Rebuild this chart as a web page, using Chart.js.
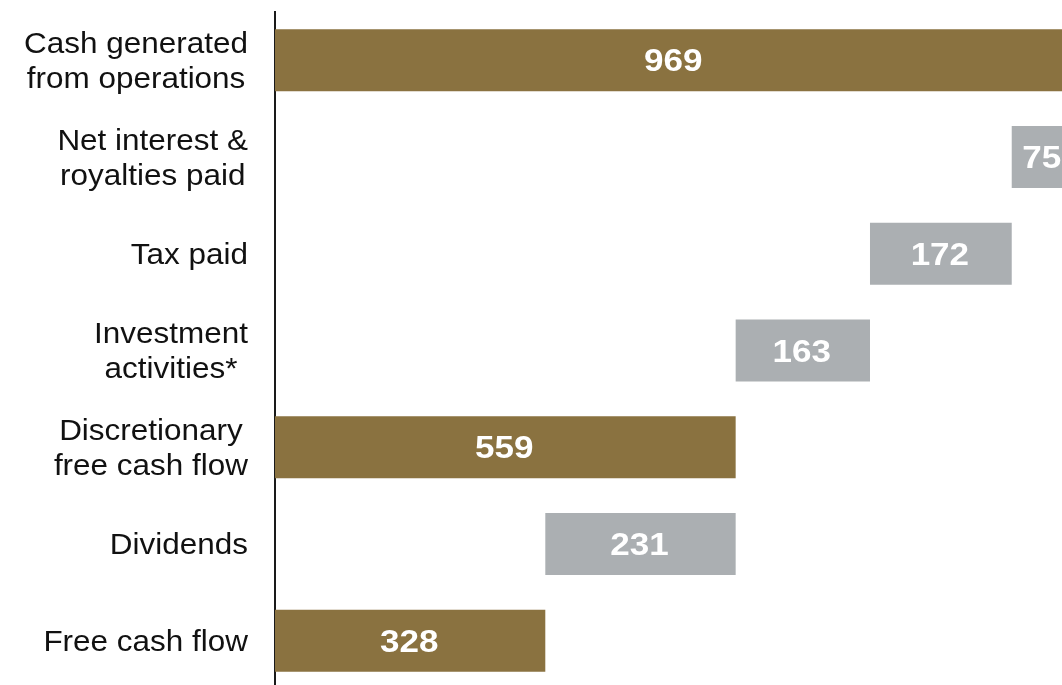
<!DOCTYPE html>
<html>
<head>
<meta charset="utf-8">
<script src="https://cdn.jsdelivr.net/npm/chart.js@4"></script>
<style>
    body{ margin:0; background:#fff; overflow:hidden; font-family:"Liberation Sans", Arial, sans-serif; }
    #wrap{ width:1062px; height:685px; overflow:hidden; }
</style>
</head>
<body>
<div id="wrap"><canvas id="flowChart" width="1062" height="689"></canvas></div>
<script>
/* =========================
   DATA
========================= */
const categories = [
    ["Cash generated", "from operations"],
    ["Net interest &", "royalties paid"],
    "Tax paid",
    ["Investment", "activities*"],
    ["Discretionary", "free cash flow"],
    "Dividends",
    "Free cash flow"
];

const amounts = [969, 75, 172, 163, 559, 231, 328];
const isTotal = [true, false, false, false, true, false, true];

/* =========================
   WATERFALL RANGES
========================= */
let ranges = [];
let running = 0;

amounts.forEach((v, i) => {
    if(isTotal[i]){
        running = v;
        ranges.push([0, v]);
    } else {
        ranges.push([running - v, running]);
        running = running - v;
    }
});

const GOLD = '#8a7240';
const GREY = '#abafb2';
const FONT = '"Liberation Sans", Arial, sans-serif';

/* =========================
   TEXT HELPERS
========================= */
function stretchedText(ctx, text, x, y, sx, align){
    ctx.save();
    ctx.translate(x, y);
    ctx.scale(sx, 1);
    ctx.textAlign = align;
    ctx.fillText(text, 0, 0);
    ctx.restore();
}

const labelPlugin = {
    id: 'labelPlugin',
    afterDraw(chart){
        const ctx = chart.ctx;
        const yScale = chart.scales.y;
        const meta = chart.getDatasetMeta(0);

        /* value labels inside bars */
        ctx.save();
        ctx.fillStyle = '#ffffff';
        ctx.font = 'bold 31px ' + FONT;
        ctx.textBaseline = 'alphabetic';
        meta.data.forEach((bar, i) => {
            const cx = (bar.x + bar.base) / 2;
            stretchedText(ctx, String(amounts[i]), cx - 1, bar.y + 11, 1.13, 'center');
        });
        ctx.restore();

        /* category labels left of axis */
        ctx.save();
        ctx.fillStyle = '#111111';
        ctx.font = '29px ' + FONT;
        ctx.textBaseline = 'alphabetic';
        const sx = 1.085;
        const rightEdge = 248;
        const lineH = 35;
        categories.forEach((label, i) => {
            const cy = yScale.getPixelForValue(i);
            const lines = Array.isArray(label) ? label : [label];
            if(lines.length === 1){
                stretchedText(ctx, lines[0], rightEdge, cy + 10.4, sx, 'right');
                return;
            }
            const blockW = Math.max(...lines.map(l => ctx.measureText(l).width * sx));
            const cx = rightEdge - blockW / 2;
            lines.forEach((l, j) => {
                const by = cy + 10.4 + (j - (lines.length - 1) / 2) * lineH;
                stretchedText(ctx, l, cx, by, sx, 'center');
            });
        });
        ctx.restore();
    }
};

/* =========================
   CHART
========================= */
function build(){
    return new Chart(document.getElementById('flowChart'), {
        type: 'bar',
        data: {
            labels: categories,
            datasets: [{
                data: ranges,
                backgroundColor: isTotal.map(t => t ? GOLD : GREY),
                borderWidth: 0,
                borderSkipped: false,
                barPercentage: 0.641,
                categoryPercentage: 1.0
            }]
        },
        options: {
            indexAxis: 'y',
            responsive: false,
            animation: false,
            layout: { padding: { top: 12, left: 0, right: 0, bottom: 0 } },
            plugins: {
                legend: { display: false },
                tooltip: { enabled: false }
            },
            scales: {
                x: {
                    display: false,
                    min: 0,
                    max: 955
                },
                y: {
                    position: 'left',
                    grid: { display: false },
                    ticks: { display: false },
                    border: { display: true, color: '#1a1a1a', width: 2 },
                    afterFit(scale){
                        scale.width = 275;
                    }
                }
            }
        },
        plugins: [labelPlugin]
    });
}

/* =========================
   AUTO START (after fonts)
========================= */
Promise.all([
    document.fonts.load('29px ' + FONT),
    document.fonts.load('bold 31px ' + FONT)
]).then(build, build);
</script>
</body>
</html>
